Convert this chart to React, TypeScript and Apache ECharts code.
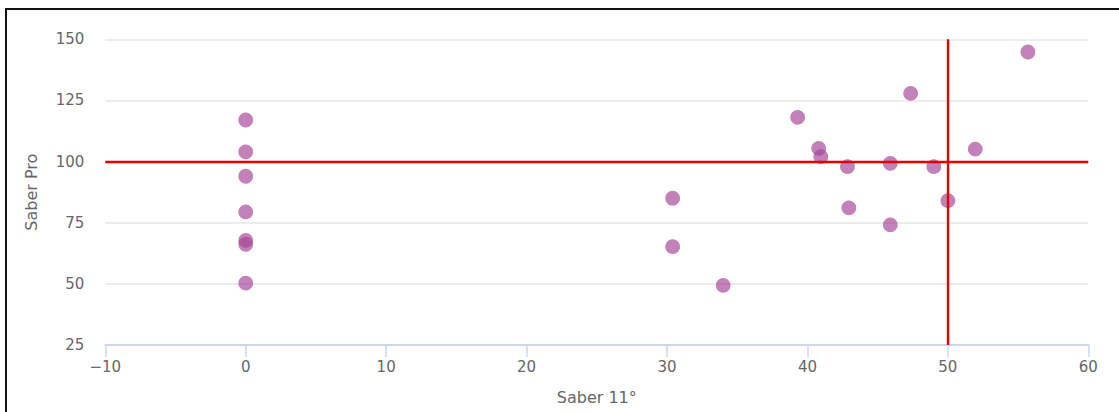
import React, { useEffect, useRef } from "react";
import * as echarts from "echarts";

const saber11: number[] = [0, 0, 0, 0, 0, 0, 0, 30.4, 30.4, 34, 39.3, 40.8, 40.95, 42.85, 42.95, 45.9, 45.9, 47.35, 49, 50, 51.95, 55.7];
const saberPro: number[] = [117, 104, 94, 79.4, 67.8, 66.2, 50.3, 85, 65.2, 49.4, 118.1, 105.4, 102, 97.9, 81.1, 99.3, 74.1, 127.9, 97.9, 84, 105.1, 144.8];
const refX = 50;
const refY = 100;
const xTitle = "Saber 11°";
const yTitle = "Saber Pro";

export default function App() {
  const ref = useRef<HTMLDivElement>(null);
  useEffect(() => {
    if (!ref.current) return;
    const chart = echarts.init(ref.current, undefined, { renderer: "svg" });
    const font = "DejaVu Sans";
    const points = saber11.map((x, i) => [x, saberPro[i]]);
    chart.setOption({
      animation: false,
      grid: { left: 105.3, right: 30.7, top: 39.3, bottom: 67 },
      xAxis: {
        type: "value",
        min: -10,
        max: 60,
        interval: 10,
        name: xTitle,
        nameLocation: "middle",
        nameGap: 44,
        nameTextStyle: { color: "#666666", fontSize: 16, fontFamily: font },
        axisLine: { show: true, onZero: false, lineStyle: { color: "#ccd6eb", width: 2 } },
        axisTick: { show: true, length: 12, lineStyle: { color: "#ccd6eb", width: 1.5 } },
        axisLabel: {
          color: "#666666",
          fontSize: 15,
          fontFamily: font,
          margin: 14,
          formatter: (v: number) => String(v).replace("-", "\u2212"),
        },
        splitLine: { show: false },
      },
      yAxis: {
        type: "value",
        min: 25,
        max: 150,
        interval: 25,
        name: yTitle,
        nameLocation: "middle",
        nameGap: 66,
        nameTextStyle: { color: "#666666", fontSize: 16, fontFamily: font },
        axisLine: { show: false },
        axisTick: { show: false },
        axisLabel: { color: "#666666", fontSize: 15, fontFamily: font, margin: 21 },
        splitLine: { show: true, lineStyle: { color: "#e6e6e6", width: 1.5 } },
      },
      series: [
        {
          type: "scatter",
          data: [],
          z: 1,
          silent: true,
          markLine: {
            silent: true,
            symbol: ["none", "none"],
            label: { show: false },
            lineStyle: { color: "#e60000", width: 2.4, type: "solid" },
            data: [{ xAxis: refX }, { yAxis: refY }],
          },
        },
        {
          type: "scatter",
          z: 3,
          symbol: "circle",
          symbolSize: 14.8,
          itemStyle: { color: "rgba(165, 70, 150, 0.85)" },
          data: points,
        },
      ],
    });
    return () => chart.dispose();
  }, []);
  return (
    <div style={{ position: "fixed", left: 0, top: 0, width: 1119, height: 412, overflow: "hidden", background: "#fff" }}>
      <div
        style={{
          position: "absolute",
          left: 5,
          top: 8,
          width: 1300,
          height: 600,
          borderTop: "2px solid #111",
          borderLeft: "2px solid #111",
        }}
      />
      <div ref={ref} style={{ position: "absolute", left: 0, top: 0, width: 1119, height: 412 }} />
    </div>
  );
}
